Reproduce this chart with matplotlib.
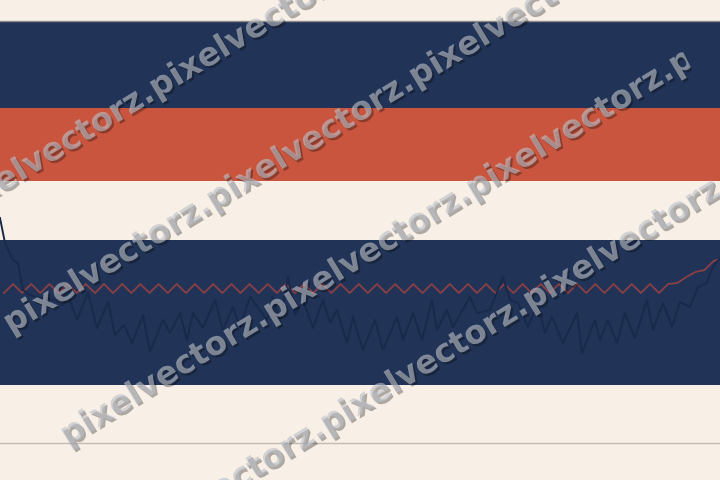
import numpy as np
import matplotlib.pyplot as plt
import matplotlib.patheffects as pe
from matplotlib.patches import Polygon
from matplotlib.transforms import IdentityTransform

# faixas horizontais do fundo (limites em y)
band_lo = [37.2, 29.9, 9.5]
band_hi = [45.9, 37.2, 24.0]
ref_y = 3.7

# serie vermelha (amostras -1 .. 78)
red_y = [18.7, 19.6, 18.7, 19.6, 18.7, 19.6, 18.7, 19.6, 18.7, 19.6,
         18.7, 19.6, 18.7, 19.6, 18.7, 19.6, 18.7, 19.6, 18.7, 19.6,
         18.7, 19.6, 18.7, 19.6, 18.7, 19.6, 18.7, 19.6, 18.7, 19.6,
         18.7, 19.6, 18.7, 19.6, 18.7, 19.6, 18.7, 19.6, 18.7, 19.6,
         18.7, 19.6, 18.7, 19.6, 18.7, 19.6, 18.7, 19.6, 18.7, 19.6,
         18.7, 19.6, 18.7, 19.6, 18.7, 19.6, 18.7, 19.6, 18.7, 19.6,
         18.7, 19.6, 18.7, 19.6, 18.7, 19.6, 18.7, 19.6, 18.7, 19.6,
         18.7, 19.6, 18.7, 19.6, 19.7, 20.3, 20.8, 21.0, 21.9, 22.2]

# serie escura
dark_x = [-1.43, -0.88, 0.0, 0.55, 1.1, 1.87, 2.97, 4.62, 5.38, 6.15,
          7.03, 8.24, 9.23, 10.44, 11.21, 12.2, 13.08, 14.29, 15.05, 16.48,
          17.25, 18.35, 19.12, 19.78, 20.88, 22.2, 23.08, 24.18, 24.95, 26.04,
          27.14, 27.91, 28.57, 29.34, 30.22, 30.99, 31.87, 32.97, 34.07, 34.84,
          35.6, 36.7, 37.36, 38.46, 39.78, 40.66, 42.2, 42.86, 43.96, 44.95,
          46.04, 46.59, 47.69, 48.35, 50.22, 50.99, 52.42, 53.85, 54.62, 55.49,
          56.59, 57.69, 58.46, 59.23, 60.44, 62.0, 62.53, 63.96, 64.51, 65.38,
          66.37, 67.25, 68.35, 69.67, 70.33, 71.43, 72.42, 73.3, 74.4, 75.27,
          76.26, 76.92, 77.69]
dark_y = [26.2, 23.7, 22.0, 21.7, 19.0, 18.5, 18.2, 18.0, 17.5, 18.2,
          16.0, 18.7, 15.2, 17.8, 14.5, 15.5, 13.7, 16.5, 12.8, 16.0,
          14.7, 16.7, 14.0, 16.7, 15.2, 18.0, 15.0, 17.3, 15.3, 18.3,
          17.0, 16.0, 18.3, 15.7, 20.3, 16.5, 18.0, 15.2, 18.0, 15.7,
          17.0, 13.7, 16.3, 13.0, 16.0, 13.0, 16.3, 14.0, 16.7, 14.0,
          18.0, 15.0, 17.0, 15.3, 18.3, 16.7, 17.0, 20.3, 18.0, 17.7,
          15.3, 17.7, 14.7, 16.3, 13.7, 16.7, 12.7, 16.0, 14.0, 16.0,
          13.7, 16.7, 14.2, 18.0, 15.0, 17.7, 15.3, 17.8, 17.3, 19.3,
          19.7, 21.3, 22.2]

marca = 'pixelvectorz.'

creme = '#f8f0e7'
fig = plt.figure(figsize=(7.2, 4.8), dpi=100, facecolor=creme)
ax = fig.add_axes([0, 0, 1, 1])
ax.set_facecolor(creme)

for lo, hi, cor in zip(band_lo, band_hi, ['#213457', '#c9553f', '#213457']):
    ax.axhspan(lo, hi, color=cor, lw=0, zorder=1)
ax.axhline(band_hi[0], color='#8f8a86', lw=1, zorder=2)
ax.axhline(ref_y, color='#c3bbb3', lw=1, zorder=2)

ax.plot(np.arange(-1, len(red_y) - 1), red_y, color='#8a3f45', lw=1.3, zorder=3)
ax.plot(dark_x, dark_y, color='#19294a', lw=1.4, zorder=3)

ax.set_xlim(-1.43, 77.7)
ax.set_ylim(0, 48)
ax.set_axis_off()

# marca d'agua
ang = 31.3
u = np.array([np.cos(np.radians(ang)), np.sin(np.radians(ang))])
inicio = [(-46, 222), (11, 334), (68, 446), (125, 558)]
d = np.array([57.0, -112.0])
s0 = np.array([inicio[0][0], 480 - inicio[0][1]]) - 3 * u
s1 = np.array([inicio[-1][0], 480 - inicio[-1][1]]) - 3 * u
L = 732
cantos = [s0 - d, s1 + d, s1 + d + L * u, s0 - d + L * u]
clip = Polygon(cantos, closed=True, transform=IdentityTransform())

for sx, sy in inicio:
    t = fig.text(sx / 720, 1 - sy / 480, marca * 4, rotation=ang,
                 rotation_mode='anchor', ha='left', va='baseline',
                 fontsize=23.5, fontweight='bold', color='#bcc0c8', alpha=0.62,
                 path_effects=[pe.SimplePatchShadow(offset=(1.5, -1.5), shadow_rgbFace='k', alpha=0.3),
                               pe.Normal()])
    t.set_clip_path(clip)

plt.savefig('out.png', dpi=100, facecolor=creme)
